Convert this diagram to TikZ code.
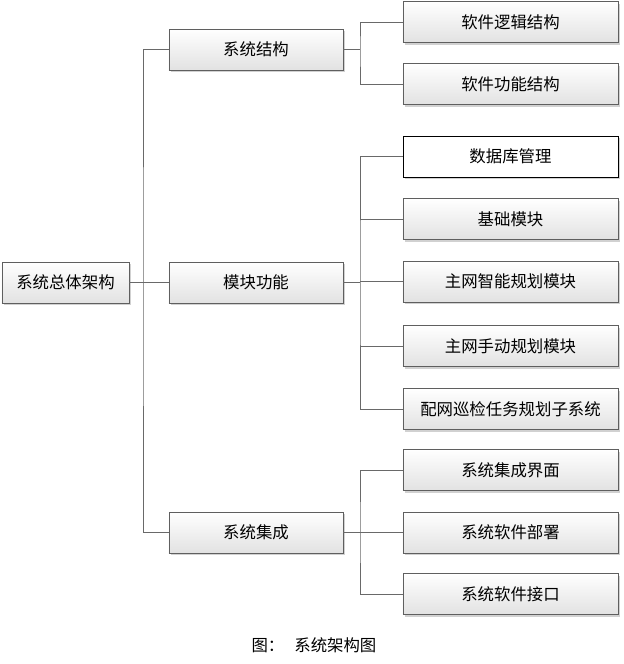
\documentclass[tikz,border=0pt]{standalone}
\usepackage{fontspec}
\setmainfont{Noto Sans CJK SC}
\usepackage{xcolor}
\usepackage{tikz}
\usetikzlibrary{shadows}

\definecolor{boxline}{RGB}{95,95,95}
\definecolor{linkline}{RGB}{105,105,105}
\definecolor{boxbottom}{RGB}{226,226,226}

\begin{document}
\begin{tikzpicture}[x=0.03cm, y=-0.03cm,
    every node/.style={font=\fontsize{14}{16}\selectfont},
    box/.style={draw=boxline, line width=0.7pt, top color=white, bottom color=boxbottom,
        minimum height=1.23cm, inner sep=0pt,
        drop shadow={shadow xshift=0.06cm, shadow yshift=-0.06cm, fill=black, opacity=0.18}},
    rootbox/.style={box, minimum width=3.81cm},
    midbox/.style={box, minimum width=5.22cm},
    leafbox/.style={box, minimum width=6.45cm},
    selbox/.style={leafbox, draw=black, top color=white, bottom color=white},
    link/.style={draw=linkline, line width=0.8pt}]
    \useasboundingbox (0,0) rectangle (624,664);

    % Root
    \node[rootbox] (root) at (65.5,282.5) {系统总体架构};

    % First level
    \node[midbox] (struct) at (256,49.5) {系统结构};
    \node[midbox] (module) at (256,282.5) {模块功能};
    \node[midbox] (integ) at (256,532.5) {系统集成};

    % Second level: structure
    \node[leafbox] (s1) at (510.5,22) {软件逻辑结构};
    \node[leafbox] (s2) at (510.5,84) {软件功能结构};

    % Second level: modules
    \node[selbox] (m1) at (510.5,156.5) {数据库管理};
    \node[leafbox] (m2) at (510.5,219) {基础模块};
    \node[leafbox] (m3) at (510.5,281.5) {主网智能规划模块};
    \node[leafbox] (m4) at (510.5,346) {主网手动规划模块};
    \node[leafbox] (m5) at (510.5,409) {配网巡检任务规划子系统};

    % Second level: integration
    \node[leafbox] (i1) at (510.5,470) {系统集成界面};
    \node[leafbox] (i2) at (510.5,532.5) {系统软件部署};
    \node[leafbox] (i3) at (510.5,594) {系统软件接口};

    % Bus points
    \coordinate (b0) at (143,282.5);
    \coordinate (b1) at (360,49.5);
    \coordinate (b2) at (360,282.5);
    \coordinate (b3) at (360,532.5);

    % Connectors
    \draw[link] (root.east) -- (module.west);
    \draw[link] (struct.west) -| (b0) |- (integ.west);

    \draw[link] (struct.east) -- (b1);
    \draw[link] (s1.west) -| (b1) |- (s2.west);

    \draw[link] (module.east) -- (b2);
    \draw[link] (m1.west) -| (b2) |- (m5.west);
    \foreach \n in {m2,m3,m4}
        \draw[link] (\n.west) -- (\n.west -| b2);

    \draw[link] (integ.east) -- (b3);
    \draw[link] (i1.west) -| (b3) |- (i3.west);
    \draw[link] (i2.west) -- (b3);

    % Caption
    \node (cap) at (314,645) {图：\hspace{0.3cm}系统架构图};
\end{tikzpicture}
\end{document}
